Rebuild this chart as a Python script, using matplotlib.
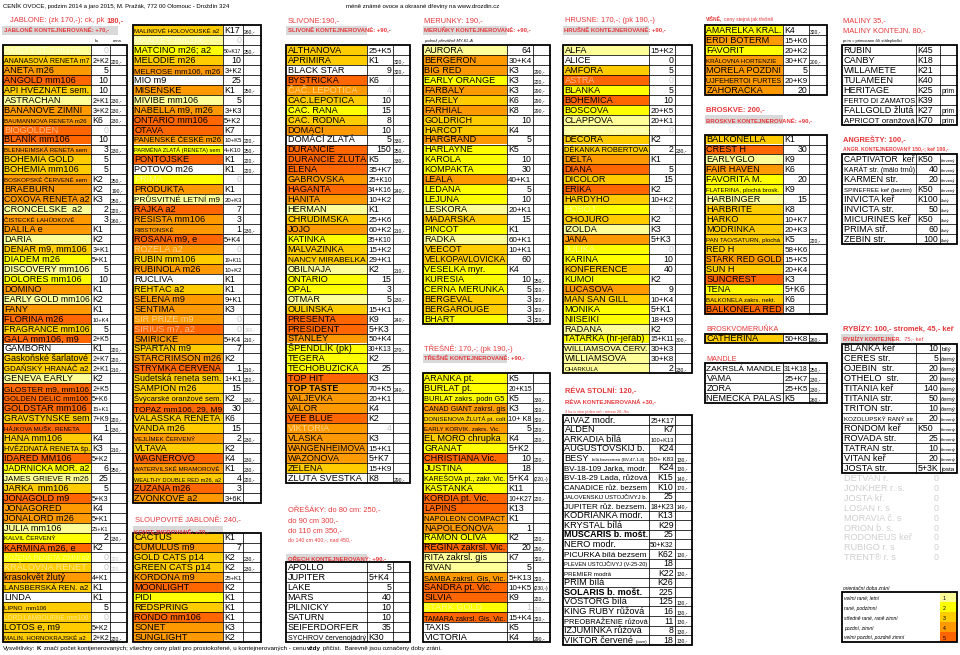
import matplotlib
matplotlib.use('Agg')
import matplotlib.pyplot as plt
from matplotlib.patches import Rectangle
from matplotlib.colors import to_rgb

plt.rcParams['font.family'] = ['Liberation Sans', 'DejaVu Sans']

# ---------------- DATA ----------------
# rows: (name, quantity, price / note, code)  code: ripening level 0-5, f=faded, s=small, b=bold
JAB1 = [
    ("AMETYST mm106", "0", "", "1f"),
    ("ANANASOVÁ RENETA m7", "2+K2", "220,-", "3"),
    ("ANETA m26", "5", "", "4"),
    ("ANGOLD mm106", "10", "", "5"),
    ("API HVĚZNATÉ sem.", "10", "", "3"),
    ("ASTRACHAN", "2+K1", "230,-", "1"),
    ("BANÁNOVÉ ZIMNÍ", "3+K2", "230,-", "4"),
    ("BAUMANNOVA RENETA m26", "K6", "230,-", "4s"),
    ("BIOGOLDEN", "0", "", "5f"),
    ("BLANÍK mm106", "10", "", "5"),
    ("BLENHEIMSKÁ RENETA sem", "3", "230,-", "4s"),
    ("BOHEMIA GOLD", "5", "", "3"),
    ("BOHEMIA mm106", "5", "", "3"),
    ("BOSKOPSKÉ ČERVENÉ sem", "K2", "250,-", "4s"),
    ("BRAEBURN", "K2", "190,-", "4"),
    ("COXOVA RENETA a2", "K3", "250,-", "4"),
    ("CRONCELSKÉ  a2", "2", "220,-", "1"),
    ("ČISTECKÉ LAHŮDKOVÉ", "3", "260,-", "4s"),
    ("DALILA e", "K1", "", "4"),
    ("DARIA", "K2", "", "1"),
    ("DENÁR m9, mm106", "3+K1", "", "3"),
    ("DIADÉM m26", "5+K1", "", "2"),
    ("DISCOVERY mm106", "5", "", "1"),
    ("DOLORES mm106", "10", "", "2"),
    ("DOMINO", "K1", "", "4"),
    ("EARLY GOLD mm106", "K2", "", "1"),
    ("FANY", "K1", "", "4"),
    ("FLORINA m26", "10+K4", "", "5"),
    ("FRAGRANCE mm106", "5", "", "3"),
    ("GALA mm106, m9", "2+K5", "", "5"),
    ("GAMBORN", "K1", "220,-", "0"),
    ("Gaskoňské šarlatové", "2+K7", "220,-", "3"),
    ("GDAŇSKÝ HRANÁČ a2", "2+K1", "210,-", "3"),
    ("GENEVA EARLY", "K2", "", "1"),
    ("GLOSTER m9, mm106", "2+K5", "", "5"),
    ("GOLDEN DELIC mm106", "5+K6", "", "5"),
    ("GOLDSTAR mm106", "15+K1", "", "5"),
    ("GRAVŠTÝNSKÉ sem", "7+K9", "220,-", "3"),
    ("HÁJKOVA MUŠK. RENETA", "1", "230,-", "5s"),
    ("HANA mm106", "K4", "", "3"),
    ("HVĚZDNATÁ RENETA šp.", "K3", "210,-", "3"),
    ("IDARED MM106", "5+K2", "", "5"),
    ("JADRNIČKA MOR. a2", "6", "250,-", "2"),
    ("JAMES GRIEVE R m26", "25", "", "1"),
    ("JARKA  mm106", "5", "", "3"),
    ("JONAGOLD m9", "5+K3", "", "5"),
    ("JONAGORED", "K4", "", "4"),
    ("JONALORD m26", "5+K1", "", "4"),
    ("JULIA mm106", "25+K1", "", "1"),
    ("KALVIL ČERVENÝ", "2", "230,-", "2s"),
    ("KARMÍNA m26, e", "K2", "", "5"),
    ("KOŽENÁ RENETA ZIMNÍ a2", "0", "220,-", "2f"),
    ("KRÁLOVNA RENET", "0", "220,-", "3f"),
    ("krasokvět žlutý", "4+K1", "", "4"),
    ("LANSBERSKÁ REN. a2", "K1", "", "3"),
    ("LINDA", "K1", "", "0"),
    ("LIPNO  mm106", "5", "", "3s"),
    ("LORD LAMBOURNE mm106", "0", "", "3f"),
    ("LOTOS e, m9", "5+K2", "", "3"),
    ("MALIN. HORNOKRAJSKÉ a2", "2+K2", "220,-", "3s"),
]

JAB2 = [
    ("MALINOVÉ HOLOVOUSKÉ a2", "K17", "260,-", "3s"),
    ("MANTET mm106", "0", "", "1f"),
    ("MATČINO m26; a2", "50+K17", "250,-", "2"),
    ("MELODIE m26", "10", "", "3"),
    ("MELROSE mm106, m26", "3+K2", "", "4"),
    ("MIO m9", "25", "", "0"),
    ("MIŠEŇSKÉ", "K1", "250,-", "4"),
    ("MIVIBE mm106", "5", "", "1"),
    ("NABELLA m9, m26", "3+K3", "", "4"),
    ("ONTARIO mm106", "5+K2", "", "5"),
    ("OTAVA", "K7", "", "5"),
    ("PANENSKÉ ČESKÉ m26", "10+K5", "220,-", "4"),
    ("PARMÉNA ZLATÁ (RENETA) sem", "4+K10", "250,-", "2s"),
    ("PONTOJSKÉ", "K1", "220,-", "5"),
    ("POTOVO m26", "K1", "220,-", "0"),
    ("PRIMA", "0", "", "2f"),
    ("PRODUKTA", "K1", "", "4"),
    ("PRŮSVITNÉ LETNÍ m9", "20+K3", "", "1"),
    ("RAJKA a2", "7", "", "5"),
    ("RESISTA mm106", "3", "", "4"),
    ("RIBSTONSKÉ", "1", "230,-", "4s"),
    ("ROSANA m9, e", "5+K4", "", "5"),
    ("ROZELA a2", "0", "", "4f"),
    ("RUBÍN mm106", "19+K11", "", "3"),
    ("RUBINOLA m26", "10+K2", "", "4"),
    ("RUCLIVA", "K1", "", "0"),
    ("ŘEHTÁČ a2", "K1", "", "3"),
    ("SELENA m9", "9+K1", "", "4"),
    ("SENTIMA", "K3", "", "4"),
    ("SIR PRIZE m9", "0", "", "4f"),
    ("SIRIUS m7, a2", "0", "190,-", "5f"),
    ("SMIŘICKÉ", "5+K4", "210,-", "4"),
    ("SPARTAN m9", "7", "", "3"),
    ("STARCRIMSON m26", "K2", "", "4"),
    ("STRÝMKA ČERVENÁ", "1", "210,-", "5"),
    ("Sudetská reneta sem.", "1+K1", "220,-", "3"),
    ("ŠAMPION m26", "15", "", "3"),
    ("Švýcarské oranžové sem.", "K2", "230,-", "3"),
    ("TOPAZ mm106, 29, M9", "30", "", "5"),
    ("VALAŠSKÁ RENETA", "K6", "", "3"),
    ("VANDA m26", "15", "", "3"),
    ("VEJLÍMEK ČERVENÝ", "2", "230,-", "4s"),
    ("VLTAVA", "K2", "", "3"),
    ("WAGNEROVO", "K4", "230,-", "5"),
    ("WATERVILSKÉ MRAMOROVÉ", "K1", "230,-", "4s"),
    ("WEALTHY DOUBLE RED m26, a2", "4", "220,-", "3s"),
    ("ZUZANA m26", "3", "", "5"),
    ("ZVONKOVÉ a2", "3+6K", "", "4"),
]

SLOUP = [
    ("CACTUS", "K1", "", "3"),
    ("CUMULUS m9", "7", "", "4"),
    ("GOLD CATS p14", "K2", "230,-", "3"),
    ("GREEN CATS p14", "K2", "230,-", "3"),
    ("KORDONA m9", "25+K1", "", "4"),
    ("MOONLIGHT", "K2", "", "5"),
    ("PIDI", "K1", "", "2"),
    ("REDSPRING", "K1", "", "3"),
    ("RONDO mm106", "K1", "", "5"),
    ("SONET", "K3", "", "4"),
    ("SUNGLIGHT", "K2", "", "4"),
]

SLIV = [
    ("ALTHANOVA", "25+K5", "", "3"),
    ("APRIMIRA", "K1", "320,-", "3"),
    ("BLACK STAR", "9", "320,-", "0"),
    ("BYSTRICKÁ", "K6", "", "5"),
    ("ČAČ. LEPOTICA", "4", "", "4f"),
    ("ČAČ.LEPOTICA", "10", "", "3"),
    ("ČAČ. RANA", "15", "", "2"),
    ("ČAČ. RODNA", "8", "", "3"),
    ("DOMÁCÍ", "10", "", "4"),
    ("DOMÁCÍ ZLATÁ", "5", "330,-", "0"),
    ("DURANCIE", "150", "250,-", "5"),
    ("DURANCIE ŽLUTÁ", "K5", "330,-", "5"),
    ("ELENA", "35+K7", "", "5"),
    ("GABROVSKÁ", "25+K10", "", "4"),
    ("HAGANTA", "34+K16", "240,-", "5"),
    ("HANITA", "10+K2", "", "4"),
    ("HERMAN", "K1", "", "1"),
    ("CHRUDIMSKÁ", "25+K6", "", "3"),
    ("JOJO", "60+K2", "210,-", "4"),
    ("KATINKA", "35+K10", "", "2"),
    ("MALVAZINKA", "15+K2", "", "3"),
    ("NANCY MIRABELKA", "29+K1", "", "3"),
    ("OBILNAJA", "K2", "210,-", "1"),
    ("ONTARIO", "15", "", "2"),
    ("OPÁL", "3", "", "2"),
    ("OTMAR", "5", "230,-", "1"),
    ("OULINSKÁ", "15+K1", "", "3"),
    ("PRESENTA", "K9", "240,-", "5"),
    ("PRESIDENT", "5+K3", "", "5"),
    ("STANLEY", "50+K4", "", "4"),
    ("ŠPENDLÍK (pk)", "30+K13", "270,-", "2"),
    ("TEGERA", "K2", "", "2"),
    ("TĚCHOBUZICKÁ", "25", "", "2"),
    ("TOP HIT", "K3", "", "5"),
    ("TOP TASTE", "70+K5", "240,-", "4b"),
    ("VALJEVKA", "20+K1", "", "4"),
    ("VALOR", "K4", "", "4"),
    ("VEE BLUE", "K2", "", "5"),
    ("VIKTORIA", "4", "", "4f"),
    ("VLAŠKA", "K3", "", "4"),
    ("WANGENHEIMOVA", "15+K1", "", "4"),
    ("WAZONOVA", "5+K7", "", "4"),
    ("ZELENÁ", "15+K9", "", "3"),
    ("ŽLUTÁ ŠVESTKA", "K8", "290,-", "0"),
]

ORECH = [
    ("APOLLO", "5", "", "0"),
    ("JUPITER", "5+K4", "", "0"),
    ("LAKE", "5", "", "0"),
    ("MARS", "40", "", "0"),
    ("PILNICKÝ", "10", "", "0"),
    ("SATURN", "10", "", "0"),
    ("SEIFERDORFER", "35", "", "0"),
    ("SYCHROV červenojádrý", "K30", "", "0"),
]

MERU = [
    ("AURORA", "64", "", "1"),
    ("BERGERON", "30+K4", "", "4"),
    ("BIG RED", "K3", "290,-", "4"),
    ("EARLY ORANGE", "K3", "220,-", "2"),
    ("FARBALY", "K3", "290,-", "4"),
    ("FARELY", "K6", "290,-", "3"),
    ("FARHIAL", "K8", "290,-", "4"),
    ("GOLDRICH", "10", "", "3"),
    ("HARCOT", "K4", "", "3"),
    ("HARGRAND", "5", "", "4"),
    ("HARLAYNE", "K5", "", "2"),
    ("KAROLA", "10", "", "2"),
    ("KOMPAKTA", "30", "", "2"),
    ("LEALA", "40+K1", "", "4"),
    ("LEDANA", "5", "", "2"),
    ("LEJUNA", "10", "", "2"),
    ("LESKORA", "20+K1", "", "1"),
    ("MADARSKÁ", "15", "", "3"),
    ("PINCOT", "K1", "", "2"),
    ("RADKA", "60+K1", "", "1"),
    ("VEECOT", "10+K1", "", "3"),
    ("VELKOPAVLOVICKÁ", "60", "", "3"),
    ("VESELKA myr.", "K4", "", "2"),
    ("KURESIA", "10", "250,-", "2"),
    ("ČERNÁ MERUŇKA", "5", "320,-", "2"),
    ("BERGEVAL", "3", "320,-", "3"),
    ("BERGAROUGE", "3", "320,-", "3"),
    ("BHART", "3", "320,-", "2"),
]

TRES = [
    ("ARANKA pt.", "K5", "", "2"),
    ("BURLAT pt.", "20+K15", "", "2"),
    ("BURLAT zakrs. podn G5", "K5", "330,-", "2"),
    ("CANAD GIANT zakrsl. gis", "K3", "320,-", "4"),
    ("DONISENOVA ŽLUTÁ pt. colt", "10+ K8", "320,-", "3s"),
    ("EARLY KORVIK. zakrs. Vic.", "5", "220,-", "4s"),
    ("EL MORO chrupka", "K4", "220,-", "3"),
    ("GRANÁT", "5+K2", "", "2"),
    ("CHRISTIANA Vic.", "10", "220,-", "5"),
    ("JUSTINA", "18", "", "2"),
    ("KAREŠOVA pt., zakr. Vic.", "5+K4", "(220,-)", "2"),
    ("KAŠTÁNKA", "K11", "", "2"),
    ("KORDIA pt. Vic.", "10+K27", "220,-", "5"),
    ("LAPINS", "K13", "", "5"),
    ("NAPOLEON COMPACT", "K1", "", "4"),
    ("NAPOLEONOVA", "1", "", "4"),
    ("RAMON OLIVA", "K2", "220,-", "2"),
    ("REGINA zakrsl. Vic.", "20", "290,-", "5"),
    ("RITA zakrsl. gis", "K7", "320,-", "1"),
    ("RIVAN", "5", "", "1"),
    ("SAMBA zakrsl. Gis, Vic.", "5+K13", "320,-", "4"),
    ("SANDRA pt. Vic.", "10+K5", "(230,-)", "5"),
    ("SILVIA", "K9", "220,-", "5"),
    ("STARK GOLD", "1", "290,-", "2f"),
    ("TAMARA zakrsl. Gis, Vic.", "15+K4", "320,-", "5"),
    ("TAXIS", "K5", "", "0"),
    ("VICTORIA", "K4", "290,-", "0"),
]

HRUS = [
    ("ALFA", "15+K2", "", "1"),
    ("ALICE", "0", "", "0"),
    ("AMFORA", "5", "", "3"),
    ("ASTRA", "0", "", "5f"),
    ("BLANKA", "5", "", "2"),
    ("BOHEMICA", "10", "", "5"),
    ("BOSCOVA", "20+K5", "", "2"),
    ("CLAPPOVA", "20+K1", "", "1"),
    ("CLAPPOVA ČERVENÁ", "0", "", "1f"),
    ("DECORA", "K2", "", "3"),
    ("DĚKANKA ROBERTOVA", "2", "230,-", "3"),
    ("DELTA", "K1", "", "4"),
    ("DIANA", "5", "", "5"),
    ("DICOLOR", "15", "", "3"),
    ("ERIKA", "K2", "", "5"),
    ("HARDYHO", "10+K2", "", "3"),
    ("HOBOJ", "5", "", "2f"),
    ("CHOJURO", "K2", "", "3"),
    ("IZOLDA", "K3", "", "1"),
    ("JANA", "5+K3", "", "4"),
    ("JULIKA", "0", "", "2f"),
    ("KARINA", "10", "", "2"),
    ("KONFERENCE", "40", "", "3"),
    ("KUMOI", "K2", "", "2"),
    ("LUCASOVA", "9", "", "4"),
    ("MAN SAN GILL", "10+K4", "", "3"),
    ("MONIKA", "5+K1", "", "2"),
    ("NIISEIKI", "18+K9", "", "2"),
    ("RADANA", "K2", "", "1"),
    ("TATARKA (hr-jeřáb)", "15+K11", "300,-", "2"),
    ("WILLIAMSOVA ČERV.", "30+K3", "", "1"),
    ("WILLIAMSOVA", "30+K8", "", "1"),
    ("OHARKULA", "2", "230,-", "1s"),
]

REVA = [
    ("AIVAZ modr.", "25+K17", "", "0"),
    ("ALDEN", "K7", "", "0"),
    ("ARKADIA bílá", "100+K13", "", "0"),
    ("AUGUSTOVSKIJ b.", "K24", "", "0"),
    ("BESY|bílá bezsemen (BV-47-1-8)", "50+ K83", "130,-", "0"),
    ("BV-18-109 Jarka, modr.", "K24", "130,-", "0"),
    ("BV-18-29 Lada, růžová", "K15", "140,-", "0"),
    ("CANADICE růž. bezsem", "K10", "170,-", "0"),
    ("JALOVENSKIJ USTOJČIVYJ b.", "25", "", "0s"),
    ("JUPITER růž. bezsem.", "18+K23", "140,-", "0"),
    ("KODRIANKA modr.", "K13", "", "0"),
    ("KRYSTAL bílá", "K29", "", "0"),
    ("MUSCARIS b. mošt.", "25", "", "0b"),
    ("NERO modr.", "50+K32", "", "0"),
    ("PICURKA bílá bezsem", "K62", "130,-", "0"),
    ("PLEVEN USTOJČIVYJ (V-25-20)", "18", "", "0s"),
    ("PREMIER modrá", "K22", "130,-", "0s"),
    ("PRIM bílá", "K26", "", "0"),
    ("SOLARIS b. mošt.", "225", "", "0b"),
    ("VOSTORG bílá", "125", "130,-", "0"),
    ("KING RUBY růžová", "16", "130,-", "0"),
    ("PREOBRAŽENIE růžová", "11", "130,-", "0"),
    ("IZJUMINKA růžová", "8", "130,-", "0"),
    ("VIKTOR červené|(pozn)", "18", "130,-", "0"),
]

VISNE = [
    ("AMARELKA KRÁL.", "K4", "320,-", "2"),
    ("ERDI BOTERM", "15+K6", "", "4"),
    ("FAVORIT", "20+K2", "", "2"),
    ("KRÁLOVNA HORTENZIE", "30+K7", "200,-", "4s"),
    ("MORELA POZDNÍ", "5", "", "4"),
    ("UJFEHERTOI FURTES", "20+K9", "", "4"),
    ("ZÁHORAČKA", "20", "", "4"),
]

BROSK = [
    ("BALKONELLA", "K1", "", "3"),
    ("CREST H", "30", "", "5"),
    ("EARLYGLO", "K9", "", "1"),
    ("FAIR HAVEN", "K6", "", "4"),
    ("FAVORITA M.", "20", "", "2"),
    ("FLATERINA, plochá brosk.", "K9", "", "2s"),
    ("HARBINGER", "15", "", "1"),
    ("HARBRITE", "K8", "", "3"),
    ("HARKO", "10+K7", "", "3"),
    ("MODŘINKA", "20+K3", "", "3"),
    ("PAN TAO/SATURN, plochá", "K5", "220,-", "3s"),
    ("RED H", "58+K6", "", "3"),
    ("STARK RED GOLD", "15+K5", "", "4"),
    ("SUN H", "20+K4", "", "3"),
    ("SUNCREST", "K3", "", "5"),
    ("TENA", "5+K6", "", "2"),
    ("BALKONELA zakrs. nekt.", "K6", "", "3s"),
    ("BALKONELA RED", "K8", "", "5"),
]

BROSKMER = [("CATHERINA", "50+K8", "260,-", "3")]

MANDLE = [
    ("ZAKRSLÁ MANDLE", "31+K18", "250,-", "0"),
    ("VAMA", "25+K7", "230,-", "0"),
    ("ZORA", "25+K5", "230,-", "0"),
    ("NĚMECKÁ PALAS", "K5", "260,-", "0"),
]

MALINY = [
    ("RUBÍN", "K45", "", "0"),
    ("CANBY", "K18", "", "0"),
    ("WILLAMETE", "K21", "", "0"),
    ("TULAMEEN", "K40", "", "0"),
    ("HERITAGE", "K25", "prim", "0"),
    ("FERTO DI ZAMATOS", "K39", "", "0"),
    ("FALLGOLD žlutá", "K27", "prim", "0"),
    ("APRICOT oranžová", "K70", "prim", "0"),
]

ANGR = [
    ("CAPTIVATOR  keř", "K50", "červený", "0"),
    ("KARÁT str. (málo trnů)", "40", "červený", "0"),
    ("KARMEN str.", "20", "červený", "0"),
    ("SPINEFREE keř (beztrn)", "K50", "červený", "0s"),
    ("INVICTA keř", "K100", "žlutý", "0"),
    ("INVICTA str.", "50", "žlutý", "0"),
    ("MICURINES keř", "K50", "žlutý", "0"),
    ("PRIMA stř.", "60", "žlutý", "0"),
    ("ZEBÍN str.", "100", "žlutý", "0"),
]

RYBIZ = [
    ("BLANKA keř", "10", "bílý", "0"),
    ("CERES str.", "5", "černý", "0"),
    ("OJEBIN  str.", "20", "černý", "0"),
    ("OTHELO  str.", "20", "černý", "0"),
    ("TITANIA keř", "140", "černý", "0"),
    ("TITANIA str.", "50", "černý", "0"),
    ("TRITON str.", "10", "černý", "0"),
    ("KOZOLUPSKÝ RANÝ str.", "20", "červený", "0s"),
    ("RONDOM keř", "K50", "červený", "0"),
    ("ROVADA str.", "25", "červený", "0"),
    ("TATRAN str.", "10", "červený", "0"),
    ("VITAN keř", "20", "červený", "0"),
    ("JOSTA str.", "5+3K", "josta", "0"),
]

RYBIZ_OFF_NAMES = ["DETVAN r.", "JONKHER r. s.", "JOSTA kř.", "LOSAN r. s", "MORAVIA č. s",
                   "ORION b. s.", "RODONEUS keř", "RUBIGO r. s", "TRENT® r. s"]
RYBIZ_OFF_QTY = ["0", "0", "0", "0", "0", "0", "0", "0", "0"]

LEGEND_LABELS = ["velmi rané; letní", "rané, podzimní", "středně rané, raně zimní",
                 "pozdní, zimní", "velmi pozdní, pozdně zimní"]
LEGEND_LEVELS = [1, 2, 3, 4, 5]

# ---------------- STYLE ----------------
RED = '#E5383B'
GRAYBG = '#D9D9D9'
LVL = {0: '#FFFFFF', 1: '#FFFF99', 2: '#FFFF00', 3: '#FFCC00', 4: '#FF9900', 5: '#FF6600'}
NAME_FS = 6.6
SMALL_FS = 4.4
QTY_FS = 6.3
Y0, RH = 45.0, 9.95

W, H = 960, 655
fig = plt.figure(figsize=(9.6, 6.55), dpi=100)
ax = fig.add_axes([0, 0, 1, 1])
ax.set_xlim(0, W)
ax.set_ylim(H, 0)
ax.set_autoscale_on(False)
ax.axis('off')
renderer = fig.canvas.get_renderer()


def rt(r):
    return Y0 + r * RH


def fade(bg):
    if bg.upper() == '#FFFFFF':
        return '#C8C8C8'
    c = to_rgb(bg)
    return tuple(v + (1 - v) * 0.55 for v in c)


def txt(x, y, s, fs, maxw=None, ha='left', color='black', weight='normal', style='normal', z=5):
    t = ax.text(x, y, s, fontsize=fs, ha=ha, va='baseline', color=color,
                fontweight=weight, fontstyle=style, zorder=z)
    w = t.get_window_extent(renderer).width
    if maxw and w > maxw:
        t.set_fontsize(fs * maxw / w)
        w = maxw
    return w


def parts(x, y, segs):
    for s, fs, wt, col in segs:
        trail = len(s) - len(s.rstrip(' '))
        s2 = s.rstrip(' ')
        w = txt(x, y, s2, fs, color=col, weight=wt) if s2.strip() else 0
        x += w + trail * fs * 0.278 * 100 / 72
    return x


def draw_table(rows, xs, top, rh, kright=False, pfs=3.6):
    x0, x1, x2, x3 = xs
    n = len(rows)
    for i, (name, qty, price, code) in enumerate(rows):
        y = top + i * rh
        lvl = int(code[0])
        faded = 'f' in code
        small = 's' in code
        bold = 'b' in code
        bg = LVL[lvl]
        ax.add_patch(Rectangle((x0, y), x1 - x0, rh, facecolor=bg, edgecolor='none', zorder=1))
        tc = fade(bg) if faded else 'black'
        qc = fade('#FFFFFF') if faded else 'black'
        base = y + rh - 2.0
        fs = SMALL_FS if small else NAME_FS
        avail = x1 - x0 - 3
        if '|' in name:
            a, b = name.split('|')
            w = txt(x0 + 1.5, base, a, fs, avail, color=tc)
            w += fs * 0.278 * 100 / 72
            txt(x0 + 1.5 + w, base, b, 3.2, avail - w, color=tc)
        else:
            txt(x0 + 1.5, base, name, fs, avail, color=tc, weight='bold' if bold else 'normal')
        if qty:
            plain = qty.isdigit() or (kright and '+' not in qty)
            if plain:
                txt(x2 - 1.5, base, qty, QTY_FS, x2 - x1 - 3, ha='right', color=qc)
            else:
                txt(x1 + 1.2, base, qty, QTY_FS, x2 - x1 - 2.4, color=qc)
        if price:
            txt(x2 + 1.2, base, price, pfs, x3 - x2 - 2.2, color=qc)
    bottom = top + n * rh
    for i in range(1, n):
        y = top + i * rh
        ax.plot([x0, x3], [y, y], color='black', lw=0.55, zorder=3)
    for x in (x1, x2):
        ax.plot([x, x], [top, bottom], color='black', lw=0.55, zorder=3)
    ax.add_patch(Rectangle((x0, top), x3 - x0, bottom - top, fill=False,
                           edgecolor='black', lw=1.3, zorder=4))


def kont(x0, x1, r_center_y, segs, gray=True):
    if gray:
        ax.add_patch(Rectangle((x0, r_center_y - 4.6), x1 - x0, 9.2, facecolor=GRAYBG,
                               edgecolor='none', zorder=1))
    parts(x0 + 1.5, r_center_y + 2.0, segs)


# ---------------- TEXT HEADERS ----------------
txt(3, 8, "CENÍK OVOCE, podzim 2014 a jaro 2015, M. Pražák, 772 00 Olomouc - Droždín 324", 4.3)
txt(346, 8, "méně známé ovoce a okrasné dřeviny na www.drozdin.cz", 4.3)

HF = 5.4
KF = 4.3
parts(10, 22.5, [("JABLONE: (zk 170,-); ck, pk ", HF, 'normal', RED), ("180,-", HF, 'bold', RED)])
kont(2, 118, 30.5, [("JABLONĚ KONTEJNEROVANÉ: +70,-", KF, 'bold', RED)])
txt(95, 42, "ks", 3.0)
txt(113, 42, "cena", 3.0)

parts(288, 22.5, [("SLIVONE:190,-", HF, 'normal', RED)])
kont(286, 367, 30.5, [("SLIVONĚ KONTEJNEROVANÉ: +90,-", KF, 'bold', RED)])

parts(424, 22.5, [("MERUNKY: 190,-", HF, 'normal', RED)])
kont(423, 507, 30.5, [("MERUŇKY KONTEJNEROVANÉ: +90,-", KF, 'bold', RED)])
txt(424, 42, "podnož převážně MY-KL-A", 3.0, style='italic')

parts(565, 22.5, [("HRUSNE: 170,-; (pk 190,-)", HF, 'normal', RED)])
kont(563, 649, 30.5, [("HRUŠNĚ KONTEJNEROVANÉ: +90,-", KF, 'bold', RED)])

parts(706, 21.5, [("VIŠNĚ, ", 3.6, 'bold', RED), ("ceny stejná jak třešně", 3.6, 'normal', RED)])

parts(843, 22.5, [("MALINY 35,-", HF, 'normal', RED)])
parts(843, 32.5, [("MALINY KONTEJN. 80,-", HF, 'normal', RED)])
txt(843, 42, "prim = primocane čili stáleplodící", 3.0)

parts(706, rt(6) + 7.5, [("BROSKVE: 200,-", HF, 'bold', RED)])
kont(705, 783, rt(7) + 5, [("BROSKVE KONTEJNEROVANÉ: +90,-", KF, 'bold', RED)])

parts(843, rt(9) + 7.5, [("ANGREŠTY: 100,-", HF, 'bold', RED)])
parts(843, rt(10) + 7.0, [("ANGR. KONTEJNEROVANÝ 150,-; keř 100,-", 3.7, 'bold', RED)])

parts(706, rt(28) + 7.5, [("BROSKVOMERUŇKA", 5.2, 'normal', RED)])
parts(706, rt(31) + 7.5, [("MANDLE", 5.2, 'normal', RED)])

parts(843, rt(28) + 7.5, [("RYBÍZY: 100,- stromek, 45,- keř", HF, 'bold', RED)])
ax.add_patch(Rectangle((841, rt(29) + 0.4), 53, 9.2, facecolor=GRAYBG, edgecolor='none', zorder=1))
parts(843, rt(29) + 7.0, [("RYBÍZY KONTEJNER.", 4.1, 'bold', RED), ("  75,- keř", 4.1, 'normal', RED)])

parts(424, rt(30) + 7.5, [("TŘEŠNĚ: 170,-; (pk 190,-)", HF, 'normal', RED)])
kont(423, 507, rt(31) + 5, [("TŘEŠNĚ KONTEJNEROVANÉ: +90,-", KF, 'bold', RED)])

parts(565, 392.5, [("RÉVA STOLNÍ: 120,-", HF, 'bold', RED)])
parts(565, 403, [("RÉVA KONTEJNEROVANÁ +30,-", KF, 'bold', RED)])
txt(565, 412.5, "3 ks a více jeden odr.: minus 20,-/ks", 2.9, color=RED)

parts(135, 522.5, [("SLOUPOVITÉ JABLONĚ: 240,-", HF, 'normal', RED)])
kont(133, 223, 531, [("KONTEJNEROVANÉ: +70,-", KF, 'bold', RED)])

parts(288, 512.5, [("OŘEŠÁKY: do 80 cm: 250,-", HF, 'normal', RED)])
parts(288, 522.5, [("do 90 cm 300,-", HF, 'normal', RED)])
parts(288, 532, [("do 110 cm 350,-", HF, 'normal', RED)])
parts(288, 541, [("do 140 cm 400,-, nad 450,-", 3.8, 'normal', RED)])
kont(286, 367, 559, [("OŘECH KONTEJNEROVANÝ: +90,-", KF, 'bold', RED)])

# ---------------- TABLES ----------------
X_J1 = [3, 91, 110, 127]
X_J2 = [133, 223, 243, 261]
X_SL = [286, 367, 393, 410]
X_ME = [423, 507, 533, 550]
X_HR = [563, 649, 675, 692]
X_VI = [705, 783, 809, 827]
X_MA = [842, 916, 940, 957]

draw_table(JAB1, X_J1, rt(0), RH)
draw_table(JAB2, X_J2, rt(-2), RH)
draw_table(SLOUP, X_J2, rt(49), RH)
draw_table(SLIV, X_SL, rt(0), RH)
draw_table(ORECH, X_SL, rt(52), RH)
draw_table(MERU, X_ME, rt(0), RH)
draw_table(TRES, X_ME, rt(33), RH)
draw_table(HRUS, X_HR, rt(0), RH)
draw_table(REVA, X_HR, 415.0, 9.57, kright=True)
draw_table(VISNE, X_VI, rt(-2), RH)
draw_table(BROSK, X_VI, rt(9), RH)
draw_table(BROSKMER, X_VI, rt(29), RH)
draw_table(MANDLE, X_VI, rt(32), RH)
draw_table(MALINY, X_MA, rt(0), RH, pfs=4.8)
draw_table(ANGR, X_MA, rt(11), RH, pfs=3.0)
draw_table(RYBIZ, X_MA, rt(30), RH, pfs=4.5)

for i, (nm, q) in enumerate(zip(RYBIZ_OFF_NAMES, RYBIZ_OFF_QTY)):
    b = rt(43 + i) + RH - 2.0
    txt(843.5, b, nm, NAME_FS, color='#CFCFCF')
    txt(939, b, q, QTY_FS, ha='right', color='#CFCFCF')

# legend
txt(843, rt(54) + 7.5, "orientační doba zrání", 3.6, style='italic')
lt = rt(55)
for i, (lab, lv) in enumerate(zip(LEGEND_LABELS, LEGEND_LEVELS)):
    y = lt + i * RH
    ax.add_patch(Rectangle((940, y), 17, RH, facecolor=LVL[lv], edgecolor='none', zorder=1))
    txt(844, y + RH - 2.5, lab, 3.6, style='italic')
    txt(943, y + RH - 2.5, str(lv), 3.8)
ax.add_patch(Rectangle((842, lt), 115, 5 * RH, fill=False, edgecolor='black', lw=1.3, zorder=4))

# footer
parts(3, 650, [("Vysvětlivky: ", 4.5, 'normal', 'black'), ("K", 4.5, 'bold', 'black'),
               (" značí počet kontjenerovaných; všechny ceny platí pro prostokořené, u kontejnerovaných - cenu ", 4.5, 'normal', 'black'),
               ("vždy", 4.5, 'bold', 'black'),
               (" přičíst.  Barevně jsou označeny doby zrání.", 4.5, 'normal', 'black')])

fig.savefig('out.png', dpi=100)
